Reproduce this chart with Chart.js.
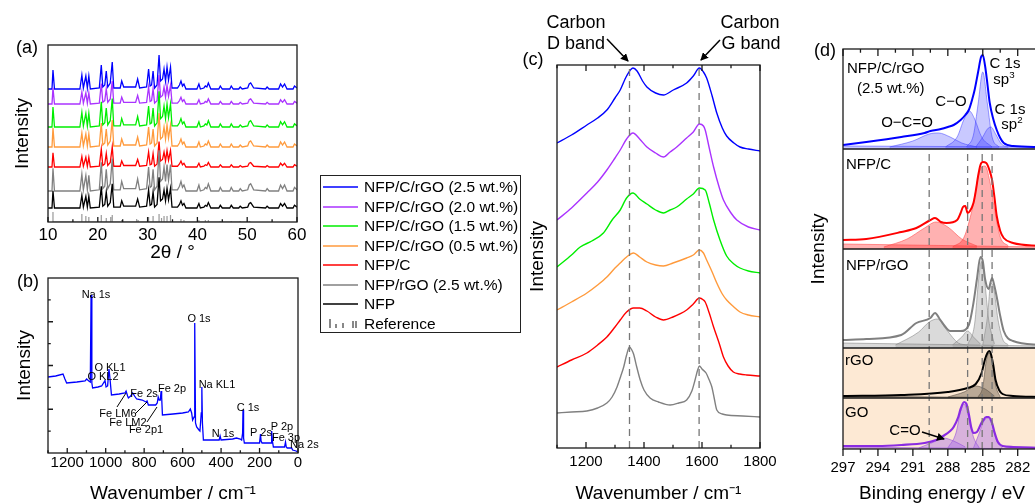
<!DOCTYPE html>
<html>
<head>
<meta charset="utf-8">
<script src="https://cdn.jsdelivr.net/npm/chart.js@4.4.0/dist/chart.umd.min.js"></script>
<style>
body { margin: 0; width: 1035px; height: 503px; overflow: hidden; background: #fff; position: relative;
       font-family: 'Liberation Sans', Arial, sans-serif; color: #000; }
.box { position: absolute; }
.c { position: absolute; transform: translate(-50%, -50%); white-space: nowrap; line-height: 1; }
.lt { position: absolute; transform: translateY(-50%); white-space: nowrap; line-height: 1; }
.s11 { font-size: 11px; }
.s15 { font-size: 15px; }
.s18 { font-size: 18px; }
#legend { position: absolute; left: 320px; top: 175px; width: 201px; height: 158px; border: 1px solid #222; box-sizing: border-box; }
.row { position: absolute; left: 2px; height: 0; }
.row .ln { position: absolute; left: 0; width: 35px; top: -1px; height: 1.5px; }
.row .tx { position: absolute; left: 41px; top: 0; transform: translateY(-50%); font-size: 15.5px; white-space: nowrap; line-height: 1; }
sup { font-size: 0.65em; vertical-align: 0.55em; line-height: 0; }
svg { position: absolute; left: 0; top: 0; }
</style>
</head>
<body>

<div class="box" style="left:0;top:30px;width:310px;height:234px"><canvas id="ca"></canvas></div>
<div class="box" style="left:0;top:262px;width:310px;height:243px"><canvas id="cb"></canvas></div>
<div class="box" style="left:520px;top:0;width:280px;height:505px"><canvas id="cc"></canvas></div>
<div class="box" style="left:800px;top:30px;width:260px;height:475px"><canvas id="cd"></canvas></div>

<!-- panel letters -->
<div class="c s18" style="left:27px;top:47px">(a)</div>
<div class="c s18" style="left:28px;top:281px">(b)</div>
<div class="c s18" style="left:533px;top:59px">(c)</div>
<div class="c s18" style="left:825px;top:50px">(d)</div>

<!-- legend -->
<div id="legend"></div>

<!-- (b) peak labels -->
<div class="c s11" style="left:96px;top:294px">Na 1s</div>
<div class="c s11" style="left:199px;top:318px">O 1s</div>
<div class="c s11" style="left:110px;top:367px">O KL1</div>
<div class="c s11" style="left:103px;top:376px">O KL2</div>
<div class="c s11" style="left:144px;top:393px">Fe 2s</div>
<div class="c s11" style="left:172px;top:388px">Fe 2p</div>
<div class="c s11" style="left:217px;top:384px">Na KL1</div>
<div class="c s11" style="left:118px;top:413px">Fe LM6</div>
<div class="c s11" style="left:128px;top:422px">Fe LM2</div>
<div class="c s11" style="left:146px;top:429px">Fe 2p1</div>
<div class="c s11" style="left:248px;top:407px">C 1s</div>
<div class="c s11" style="left:223px;top:433px">N 1s</div>
<div class="c s11" style="left:261px;top:432px">P 2s</div>
<div class="c s11" style="left:282px;top:426px">P 2p</div>
<div class="c s11" style="left:286px;top:437px">Fe 3p</div>
<div class="lt s11" style="left:290px;top:444px">Na 2s</div>

<!-- (c) band labels -->
<div class="c s18" style="left:576px;top:22px">Carbon</div>
<div class="c s18" style="left:576px;top:43px">D band</div>
<div class="c s18" style="left:750px;top:22px">Carbon</div>
<div class="c s18" style="left:751px;top:43px">G band</div>

<!-- (d) labels -->
<div class="lt s15" style="left:847px;top:67px">NFP/C/rGO</div>
<div class="lt s15" style="left:857px;top:87px">(2.5 wt.%)</div>
<div class="c s15" style="left:951px;top:100px">C−O</div>
<div class="c s15" style="left:907px;top:121px">O−C=O</div>
<div class="c s15" style="left:1005px;top:62px">C 1s</div>
<div class="c s15" style="left:1004px;top:78px">sp<sup>3</sup></div>
<div class="c s15" style="left:1010px;top:108px">C 1s</div>
<div class="c s15" style="left:1012px;top:123px">sp<sup>2</sup></div>
<div class="lt s15" style="left:846px;top:163px">NFP/C</div>
<div class="lt s15" style="left:846px;top:264px">NFP/rGO</div>
<div class="lt s15" style="left:845px;top:359px">rGO</div>
<div class="lt s15" style="left:845px;top:411px">GO</div>
<div class="c s15" style="left:905px;top:429px">C=O</div>

<svg width="1035" height="503">
  <defs>
    <marker id="ah" markerWidth="8" markerHeight="8" refX="7" refY="4" orient="auto" markerUnits="userSpaceOnUse">
      <path d="M0,0 L8,4 L0,8 z" fill="#000"/>
    </marker>
  </defs>
  <g stroke="#000" stroke-width="1">
    <line x1="117" y1="407" x2="126" y2="393"/>
    <line x1="135" y1="414" x2="147" y2="402"/>
    <line x1="147" y1="422" x2="157" y2="407"/>
  </g>
  <g stroke="#000" stroke-width="1.5">
    <line x1="607" y1="39" x2="628" y2="61" marker-end="url(#ah)"/>
    <line x1="720" y1="40" x2="701" y2="60" marker-end="url(#ah)"/>
    <line x1="922" y1="432" x2="944" y2="439" marker-end="url(#ah)"/>
  </g>
</svg>

<script>
// ---------- (a) XRD ----------
const xrdNames = ['NFP/C/rGO (2.5 wt.%)', 'NFP/C/rGO (2.0 wt.%)', 'NFP/C/rGO (1.5 wt.%)',
                  'NFP/C/rGO (0.5 wt.%)', 'NFP/C', 'NFP/rGO (2.5 wt.%)', 'NFP'];
const xrdColors = ['#0000ff', '#aa33ff', '#00ee00', '#ff9a3c', '#ff0000', '#808080', '#000000'];
const xrdBaseline = [133, 118, 95, 75, 55, 31, 14];
const xrdScale = [1.0, 0.85, 1.05, 1.0, 0.75, 1.2, 0.9];
const xrdPattern = [
  [10,0],[10.8,0],[11.0,19],[11.3,0],[16.4,0],[16.8,14],[17.1,1],[17.6,13],[17.9,1],[18.2,13],[18.5,0],
  [20.3,1],[20.7,24],[21.0,2],[21.4,4],[21.7,18],[22.0,2],[22.5,6],[22.9,27],[23.2,1],[24.5,1],[24.8,8],
  [25.2,2],[27.6,2],[28.0,10],[28.4,1],[29.8,2],[30.2,20],[30.5,3],[30.8,4],[31.1,18],[31.4,1],[31.9,4],
  [32.3,34],[32.6,8],[33.0,10],[33.3,20],[33.6,8],[33.9,22],[34.2,9],[34.6,22],[34.9,1],[36.0,1],[36.4,4],
  [36.7,8],[37.0,3],[37.3,5],[37.7,0],[39.9,0],[40.3,5],[40.6,0],[41.3,1],[41.6,3],[41.9,2],[42.2,6],
  [42.7,0],[44.3,0],[44.6,3],[45.0,0],[46.5,0],[46.8,3],[47.2,0],[48.3,0],[48.6,2],[49.0,0],[50.1,1],
  [50.4,5],[50.7,6],[51.3,1],[53.7,0],[54.0,2],[54.4,0],[56.3,0],[56.7,5],[57.1,2],[57.5,5],[58.0,0],
  [59.2,0],[59.5,3],[60,1]
];
const refPos = [11.0,16.8,17.6,18.2,20.7,21.7,22.6,22.9,24.8,27.8,28.1,30.2,31.1,32.3,32.8,33.3,33.9,34.6,
                36.7,37.3,40.3,41.6,42.2,44.6,46.8,48.6,50.5];
const refHeight = [10,8,6,5,7,4,5,7,2,3,2,5,6,8,4,6,6,7,3,2,2,2,2,1,1,1,1];

// ---------- (b) XPS survey ----------
const survey = [
  [1300,76],[1260,77],[1222,79],[1212,74],[1203,70],[1150,71],[1107,72],[1099,74],[1088,72],[1080,71],
  [1076,158],[1072,70],[1068,65],[1040,66],[1021,67],[1008,71],[1004,73],[998,66],[990,67],[983,84],
  [978,75],[970,58],[930,59],[900,60],[894,62],[886,57],[882,55],[870,57],[860,60],[856,59],[850,57],
  [839,54],[810,53],[790,51],[785,52],[778,48],[740,48],[732,50],[727,56],[722,53],[716,53],[712,62],
  [709,56],[705,38],[650,39],[600,40],[570,41],[560,44],[553,40],[548,33],[540,36],[537,130],[533,30],
  [527,26],[515,23],[510,22],[503,40],[500,66],[497,30],[492,13],[450,13],[410,13],[405,17],[400,13],
  [340,14],[320,15],[300,14],[293,13],[288,20],[286,43],[283,15],[279,10],[240,10],[200,10],[195,19],
  [192,12],[187,10],[140,10],[137,22],[133,12],[128,6],[100,6],[70,6],[65,11],[61,6],[56,5],[33,5],
  [28,3],[10,2],[2,1]
];

// ---------- (c) Raman ----------
const ramanBands = [1350, 1590];
const ramanBlue = [[1100,305],[1150,313],[1203,323],[1240,330],[1272,338],[1300,350],[1318,358],[1340,372],
  [1362,380],[1376,377],[1395,367],[1410,361],[1440,355],[1467,353],[1501,358],[1547,365],[1570,372],
  [1591,380],[1605,376],[1616,370],[1635,352],[1651,335],[1670,320],[1685,312],[1710,305],[1731,301],
  [1760,299],[1800,297]];
const ramanPurple = [[1100,228],[1150,240],[1203,255],[1240,266],[1272,278],[1300,290],[1318,298],[1340,309],
  [1362,315],[1385,309],[1410,301],[1440,295],[1467,291],[1490,296],[1513,301],[1547,310],[1570,316],
  [1591,324],[1605,322],[1611,318],[1625,300],[1640,281],[1660,260],[1674,248],[1700,235],[1720,228],
  [1760,221],[1800,218]];
const ramanGreen = [[1100,181],[1150,193],[1180,201],[1220,207],[1260,215],[1290,228],[1318,238],[1340,250],
  [1362,255],[1385,249],[1410,244],[1440,238],[1467,235],[1490,238],[1513,241],[1547,249],[1570,254],
  [1591,260],[1611,258],[1625,245],[1640,228],[1662,208],[1685,192],[1710,184],[1731,180],[1760,177],
  [1800,175]];
const ramanOrange = [[1100,138],[1150,146],[1203,155],[1240,163],[1272,171],[1300,180],[1318,185],[1340,191],
  [1364,195],[1385,191],[1410,186],[1440,183],[1467,182],[1500,185],[1547,190],[1570,193],[1591,198],
  [1605,195],[1616,188],[1635,176],[1651,165],[1670,154],[1685,148],[1710,141],[1731,136],[1760,133],
  [1800,131]];
const ramanRed = [[1100,81],[1150,88],[1203,95],[1240,103],[1272,111],[1300,121],[1318,128],[1340,136],
  [1364,140],[1385,140],[1410,137],[1440,131],[1467,128],[1500,131],[1547,138],[1570,144],[1591,150],
  [1605,148],[1611,146],[1625,135],[1640,121],[1660,104],[1674,91],[1690,82],[1708,76],[1730,74],
  [1754,73],[1800,72]];
const ramanGray = [[1100,35],[1150,36],[1203,37],[1240,40],[1272,45],[1290,51],[1307,61],[1320,72],[1330,81],
  [1340,93],[1350,101],[1358,98],[1364,94],[1375,81],[1387,68],[1400,58],[1421,50],[1450,46],[1490,43],
  [1520,45],[1547,48],[1565,57],[1576,68],[1585,78],[1591,82],[1600,79],[1614,75],[1625,68],[1634,61],
  [1642,50],[1651,38],[1670,34],[1685,33],[1740,32],[1800,31]];

// ---------- (d) C 1s ----------
const c1sLines = [289.6, 286.3, 285.05, 284.2];
const c1sPanelBase = [300, 200, 101, 51, 0];
const envRGO25 = [[297,304],[295,307],[292,312],[290,316],[289.5,318],[288.6,320],[288,322],[287.5,324],
  [286.9,329],[286.5,334],[286.2,339],[285.9,350],[285.7,359],[285.4,377],[285.15,392],[285.0,394],
  [284.8,383],[284.6,365],[284.4,346],[284.1,330],[283.8,319],[283.5,311],[283.2,306],[282.4,303],[280,302]];
const compRGO25 = [
  [[297,303],[280,302]],
  [[293,302],[291,308],[289.6,315],[288.8,316],[287.8,312],[286.8,306],[285.5,302]],
  [[288.2,302],[287.2,312],[286.6,330],[286.15,338],[285.7,330],[285.1,312],[284.2,302]],
  [[286.4,302],[285.8,314],[285.4,345],[285.0,377],[284.6,345],[284.2,312],[283.6,302]],
  [[285.6,302],[285.0,312],[284.6,320],[284.3,322],[283.9,315],[283.4,305],[282.8,302]]
];
const envNFPC = [[297,209],[295,210],[292,217],[290.7,221],[289.5,229],[289.1,231],[288.6,227],[288.1,226],
  [287.2,229],[286.9,236],[286.7,242],[286.5,243],[286.3,236],[286.1,238],[285.8,246],[285.6,258],
  [285.4,273],[285.2,284],[285.0,287],[284.7,286],[284.4,278],[284.2,269],[284.0,252],[283.8,233],
  [283.5,218],[283.2,211],[282.4,206],[280,203]];
const compNFPC = [
  [[297,205],[280,202]],
  [[293.5,202],[291.5,210],[290,221],[289,227],[288,222],[286.8,210],[285.5,203]],
  [[287.6,202],[286.6,212],[285.9,240],[285.2,280],[284.8,283],[284.4,268],[284.0,240],[283.5,212],[282.8,203]]
];
const envNFPrGO = [[297,109],[295,110],[292,114],[290.7,126],[289.5,131],[289.1,136],[288.7,130],[288.2,122],
  [287.8,118],[286.9,118],[286.2,124],[285.8,146],[285.5,170],[285.2,192],[285.0,188],[284.8,170],
  [284.5,160],[284.3,168],[284.2,171],[284.0,163],[283.8,152],[283.5,133],[283.2,118],[282.4,108],[280,104]];
const compNFPrGO = [
  [[297,106],[280,103]],
  [[292.5,104],[290.5,117],[289.6,127],[288.9,130],[288.1,119],[287.1,106],[286.3,104]],
  [[287.6,104],[286.8,112],[286.3,118],[285.8,112],[285.2,105]],
  [[286.3,104],[285.7,125],[285.35,170],[285.1,188],[284.85,170],[284.5,130],[284.0,105]],
  [[285.0,104],[284.6,132],[284.3,166],[284.05,160],[283.7,130],[283.3,110],[282.8,104]]
];
const envRGO = [[297,53],[292,54],[288,57],[286.3,61],[285.6,65],[285.1,76],[284.8,90],[284.6,96],
  [284.45,98],[284.3,95],[284.1,84],[283.9,69],[283.6,59],[283.3,55],[282.4,53],[280,52]];
const compRGO = [
  [[297,53],[280,51]],
  [[288,52],[286.6,57],[285.6,63],[284.8,60],[284,53]],
  [[285.4,52],[285.0,62],[284.7,88],[284.45,96],[284.2,88],[283.9,64],[283.5,52]]
];
const envGO = [[297,3],[294,3],[292,4],[290,6],[289,9],[288.4,13],[287.8,18],[287.5,22],[287.1,32],[286.9,40],
  [286.6,47],[286.4,45],[286.2,35],[286.0,22],[285.8,16],[285.5,17],[285.2,24],[285.0,28],[284.7,32],
  [284.5,32],[284.2,26],[284.0,17],[283.7,7],[283.3,3],[282.4,2],[280,1]];
const compGO = [
  [[297,2],[280,0]],
  [[290.5,1],[289.2,7],[288.4,11],[287.5,8],[286.5,2]],
  [[288,1],[287.3,16],[286.9,38],[286.6,45],[286.3,36],[285.8,12],[285.3,1]],
  [[285.8,1],[285.3,16],[284.9,28],[284.55,31],[284.2,24],[283.8,8],[283.3,1]]
];

// ---------- helpers ----------
Chart.defaults.font.family = "'Liberation Sans', Arial, sans-serif";
Chart.defaults.color = '#000';
Chart.defaults.animation = false;
Chart.defaults.events = [];
Chart.defaults.plugins.legend.display = false;
Chart.defaults.plugins.tooltip.enabled = false;

const pts = arr => arr.map(([x, y]) => ({x, y}));
const onStep = (v, s) => Math.abs(v / s - Math.round(v / s)) < 1e-6;

function trace(arr, color, width, extra) {
  return Object.assign({data: pts(arr), borderColor: color, borderWidth: width, pointRadius: 0,
                        fill: false, tension: 0}, extra || {});
}

// frame, inward/outward ticks, shaded bands, separators
function makeFrame(cfg) {
  return {
    id: 'frame',
    beforeDatasetsDraw(chart) {
      const {ctx, chartArea: a, scales: {y}} = chart;
      (cfg.bands || []).forEach(b => {
        const t = y.getPixelForValue(b.hi), btm = y.getPixelForValue(b.lo);
        ctx.save(); ctx.fillStyle = b.color; ctx.fillRect(a.left, t, a.width, btm - t); ctx.restore();
      });
    },
    afterDatasetsDraw(chart) {
      const {ctx, chartArea: a, scales: {x, y}} = chart;
      ctx.save();
      ctx.strokeStyle = '#1a1a1a';
      ctx.lineWidth = 1.3;
      ctx.strokeRect(a.left, a.top, a.width, a.height);
      ctx.beginPath();
      (cfg.seps || []).forEach(v => {
        const p = y.getPixelForValue(v);
        ctx.moveTo(a.left, p); ctx.lineTo(a.right, p);
      });
      x.ticks.forEach(t => {
        const p = x.getPixelForValue(t.value);
        const len = onStep(t.value, cfg.xMajor) ? cfg.tick : cfg.tick * 0.55;
        const dir = cfg.outward ? 1 : -1;
        ctx.moveTo(p, a.bottom); ctx.lineTo(p, a.bottom + dir * len);
        if (cfg.top) { ctx.moveTo(p, a.top); ctx.lineTo(p, a.top + len); }
      });
      if (cfg.yMajor) {
        y.ticks.forEach(t => {
          if (t.value <= y.min || t.value >= y.max) return;
          const p = y.getPixelForValue(t.value);
          const len = onStep(t.value, cfg.yMajor) ? cfg.tick : cfg.tick * 0.55;
          ctx.moveTo(a.left, p); ctx.lineTo(a.left + len, p);
        });
      }
      ctx.stroke();
      ctx.restore();
    }
  };
}

function xScale(o) {
  return {
    type: 'linear', min: o.min, max: o.max, reverse: !!o.reverse,
    grid: {display: false, drawTicks: false}, border: {display: false},
    ticks: {stepSize: o.step, autoSkip: false, maxRotation: 0, padding: o.pad, font: {size: o.font},
            callback: v => onStep(v, o.label) ? String(Math.round(v)) : ''},
    title: {display: true, text: o.title, font: {size: 19}, padding: {top: 0, bottom: 0}},
    afterFit: s => { s.height = o.height; }
  };
}
function yScale(o) {
  return {
    type: 'linear', min: o.min, max: o.max,
    grid: {display: false, drawTicks: false}, border: {display: false},
    ticks: Object.assign({display: false}, o.step ? {stepSize: o.step} : {}),
    title: {display: true, text: 'Intensity', font: {size: 19}, padding: {top: o.tpad, bottom: 0}},
    afterFit: s => { s.width = o.width; }
  };
}

// ---------- legend ----------
const legend = document.getElementById('legend');
const rowY = [11, 31, 50, 70, 89, 109, 128, 148];
xrdNames.forEach((n, i) => {
  const r = document.createElement('div');
  r.className = 'row'; r.style.top = rowY[i] + 'px';
  r.innerHTML = '<div class="ln" style="background:' + xrdColors[i] + ';opacity:0.75"></div><div class="tx">' + n + '</div>';
  legend.appendChild(r);
});
{
  const r = document.createElement('div');
  r.className = 'row'; r.style.top = rowY[7] + 'px';
  let bars = '';
  [[6,9],[12,4],[19,5],[29,7],[32,7]].forEach(([x, h]) => {
    bars += '<div style="position:absolute;left:' + x + 'px;top:' + (4 - h) + 'px;width:1.5px;height:' + h + 'px;background:#888"></div>';
  });
  r.innerHTML = bars + '<div class="tx">Reference</div>';
  legend.appendChild(r);
}

// ---------- chart (a) ----------
const refData = [];
refPos.forEach((x, i) => { refData.push([x, 0], [x, refHeight[i]], [x, 0]); });
const xrdSets = xrdNames.map((n, i) =>
  trace(xrdPattern.map(([x, h]) => [x, xrdBaseline[i] + h * xrdScale[i]]), xrdColors[i], 1.3, {label: n})).reverse();
xrdSets.push(trace(refData, '#999999', 1.2, {label: 'Reference'}));

new Chart(document.getElementById('ca'), {
  type: 'line',
  data: {datasets: xrdSets},
  options: {
    responsive: true, maintainAspectRatio: false,
    layout: {padding: {top: 15, right: 13, left: 0, bottom: 0}},
    scales: {
      x: xScale({min: 10, max: 60, step: 5, label: 10, pad: 3, font: 17, title: '2θ / °', height: 42}),
      y: yScale({min: 0, max: 177, width: 48, tpad: 11})
    }
  },
  plugins: [makeFrame({xMajor: 10, tick: 5})]
});

// ---------- chart (b) ----------
new Chart(document.getElementById('cb'), {
  type: 'line',
  data: {datasets: [trace(survey, '#0000ff', 1.3, {label: 'NFP/C/rGO (2.5 wt.%)'})]},
  options: {
    responsive: true, maintainAspectRatio: false,
    layout: {padding: {top: 16, right: 12, left: 0, bottom: 0}},
    scales: {
      x: xScale({min: 0, max: 1300, reverse: true, step: 100, label: 200, pad: 1, font: 15,
                 title: 'Wavenumber / cm⁻¹', height: 52}),
      y: yScale({min: 0, max: 175, step: 175 / 8, width: 48, tpad: 13})
    }
  },
  plugins: [makeFrame({xMajor: 200, tick: 5, yMajor: 175 / 4})]
});

// ---------- chart (c) ----------
const ramanSets = [
  ...ramanBands.map(b => trace([[b, 0], [b, 383]], '#777777', 1.3, {borderDash: [7, 5]})),
  trace(ramanBlue, '#0000ff', 1.4, {cubicInterpolationMode: 'monotone'}),
  trace(ramanPurple, '#aa33ff', 1.4, {cubicInterpolationMode: 'monotone'}),
  trace(ramanGreen, '#00ee00', 1.4, {cubicInterpolationMode: 'monotone'}),
  trace(ramanOrange, '#ff9a3c', 1.4, {cubicInterpolationMode: 'monotone'}),
  trace(ramanRed, '#ff0000', 1.4, {cubicInterpolationMode: 'monotone'}),
  trace(ramanGray, '#808080', 1.4, {cubicInterpolationMode: 'monotone'})
];
new Chart(document.getElementById('cc'), {
  type: 'line',
  data: {datasets: ramanSets},
  options: {
    responsive: true, maintainAspectRatio: false,
    layout: {padding: {top: 65, right: 40, left: 0, bottom: 0}},
    scales: {
      x: xScale({min: 1100, max: 1800, step: 100, label: 200, pad: 5, font: 15,
                 title: 'Wavenumber / cm⁻¹', height: 57}),
      y: yScale({min: 0, max: 383, width: 37, tpad: 6})
    }
  },
  plugins: [makeFrame({xMajor: 200, tick: 6, top: true})]
});

// ---------- chart (d) ----------
function panelSets(env, comps, base, line, fillCol, edgeCol, width) {
  const sets = [trace(env, line, width, {cubicInterpolationMode: 'monotone', order: 1})];
  comps.forEach(c => sets.push(trace(c, edgeCol, 1, {cubicInterpolationMode: 'monotone', order: 2,
    fill: {value: base}, backgroundColor: fillCol})));
  return sets;
}
const c1sSets = [
  ...c1sLines.map(v => trace([[v, 0], [v, 300]], '#777777', 1.3, {borderDash: [7, 5], order: 0})),
  ...panelSets(envRGO25, compRGO25, c1sPanelBase[0], '#0000ff', 'rgba(60,60,255,0.28)', 'rgba(60,60,255,0.5)', 2),
  ...panelSets(envNFPC, compNFPC, c1sPanelBase[1], '#ff0000', 'rgba(255,50,50,0.38)', 'rgba(255,70,70,0.55)', 2),
  ...panelSets(envNFPrGO, compNFPrGO, c1sPanelBase[2], '#808080', 'rgba(150,150,150,0.35)', 'rgba(130,130,130,0.55)', 2),
  ...panelSets(envRGO, compRGO, c1sPanelBase[3], '#000000', 'rgba(105,90,75,0.45)', 'rgba(90,80,70,0.6)', 2),
  ...panelSets(envGO, compGO, c1sPanelBase[4], '#8a2be2', 'rgba(170,110,230,0.45)', 'rgba(150,80,220,0.6)', 2.2)
];
new Chart(document.getElementById('cd'), {
  type: 'line',
  data: {datasets: c1sSets},
  options: {
    responsive: true, maintainAspectRatio: false,
    layout: {padding: {top: 19, right: 19, left: 0, bottom: 0}},
    scales: {
      x: xScale({min: 280, max: 297, reverse: true, step: 1.5, label: 3, pad: 10, font: 15,
                 title: 'Binding energy / eV', height: 56}),
      y: yScale({min: 0, max: 400, width: 43, tpad: 7})
    }
  },
  plugins: [makeFrame({xMajor: 3, tick: 7, top: true, outward: true,
    seps: [c1sPanelBase[3], c1sPanelBase[2], c1sPanelBase[1], c1sPanelBase[0]],
    bands: [{lo: c1sPanelBase[4], hi: c1sPanelBase[2], color: '#fde9d4'}]})]
});
</script>
</body>
</html>
